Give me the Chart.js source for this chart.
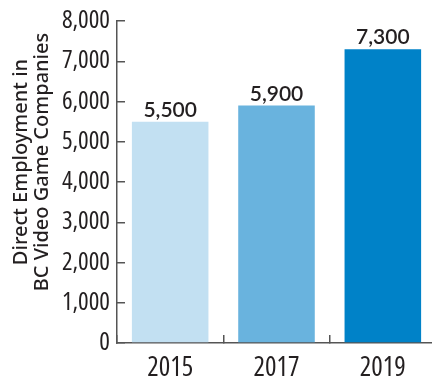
<!DOCTYPE html>
<html lang="en">
<head>
<meta charset="UTF-8">
<title>BC Video Game Employment</title>
<script src="https://cdn.jsdelivr.net/npm/chart.js"></script>
<style>
  html, body { margin: 0; padding: 0; background: #fff; overflow: hidden; }
  #wrap { width: 432px; height: 376px; overflow: hidden; }
</style>
</head>
<body>
<div id="wrap">
  <canvas id="jobsChart" width="436" height="376"></canvas>
</div>
<script>
var years = ["2015", "2017", "2019"];
var jobs = [5500, 5900, 7300];
var barColors = ["#c2e0f2", "#69b3de", "#0082c8"];
var yTicks = [0, 1000, 2000, 3000, 4000, 5000, 6000, 7000, 8000];
var titleLines = ["Direct Employment in", "BC Video Game Companies"];

var ink = "#231f20";
// weight slot also carries the stretch keyword so the canvas picks the narrow Open Sans
var narrow = { family: "'Open Sans', 'Roboto Condensed', sans-serif", weight: "normal condensed" };

// value labels above each bar
var barLabels = {
  id: "barLabels",
  afterDatasetsDraw: function(chart) {
    var ctx = chart.ctx;
    var meta = chart.getDatasetMeta(0);
    ctx.save();
    ctx.font = "600 21px Lato, 'Noto Sans', sans-serif";
    ctx.fillStyle = ink;
    ctx.textAlign = "center";
    ctx.textBaseline = "alphabetic";
    meta.data.forEach(function(bar, i) {
      ctx.fillText(jobs[i].toLocaleString("en-US"), bar.x, bar.y - 5);
    });
    ctx.restore();
  }
};

// two-line rotated y title, sitting a bit above the axis middle
var yTitle = {
  id: "yTitle",
  afterDraw: function(chart) {
    var ctx = chart.ctx;
    var area = chart.chartArea;
    var cy = (area.top + area.bottom) / 2 - 20;
    ctx.save();
    ctx.translate(0, cy);
    ctx.rotate(-Math.PI / 2);
    ctx.font = "500 20px 'Noto Sans', sans-serif";
    ctx.fillStyle = ink;
    ctx.textAlign = "center";
    ctx.textBaseline = "middle";
    ctx.fillText(titleLines[0], 0, 21);
    ctx.fillText(titleLines[1], 0, 42);
    ctx.restore();
  }
};

new Chart(document.getElementById("jobsChart"), {
  type: "bar",
  data: {
    labels: years,
    datasets: [{
      data: jobs,
      backgroundColor: barColors,
      categoryPercentage: 1,
      barPercentage: 0.72
    }]
  },
  options: {
    responsive: false,
    animation: false,
    layout: { padding: { top: 21, right: 0, bottom: 0, left: 0 } },
    plugins: {
      legend: { display: false },
      tooltip: { enabled: false }
    },
    scales: {
      x: {
        grid: {
          offset: true,
          drawOnChartArea: false,
          tickLength: -8,
          color: "#555",
          lineWidth: 1.5
        },
        border: { color: "#555", width: 1.5 },
        ticks: {
          padding: 17,
          color: ink,
          font: { family: narrow.family, weight: narrow.weight, size: 27 }
        },
        afterFit: function(scale) { scale.height = 33; }
      },
      y: {
        min: 0,
        max: 8000,
        afterBuildTicks: function(scale) {
          scale.ticks = yTicks.map(function(v) { return { value: v }; });
        },
        grid: {
          drawOnChartArea: false,
          tickLength: -8,
          color: "#555",
          lineWidth: 1.5
        },
        border: { color: "#555", width: 1.5 },
        ticks: {
          padding: 15,
          color: ink,
          font: { family: narrow.family, weight: narrow.weight, size: 25 },
          callback: function(v) { return Number(v).toLocaleString("en-US"); }
        },
        afterFit: function(scale) {
          scale.width = 117;
          scale.paddingTop = 0;   // top is set by layout padding instead
        }
      }
    }
  },
  plugins: [barLabels, yTitle]
});
</script>
</body>
</html>
